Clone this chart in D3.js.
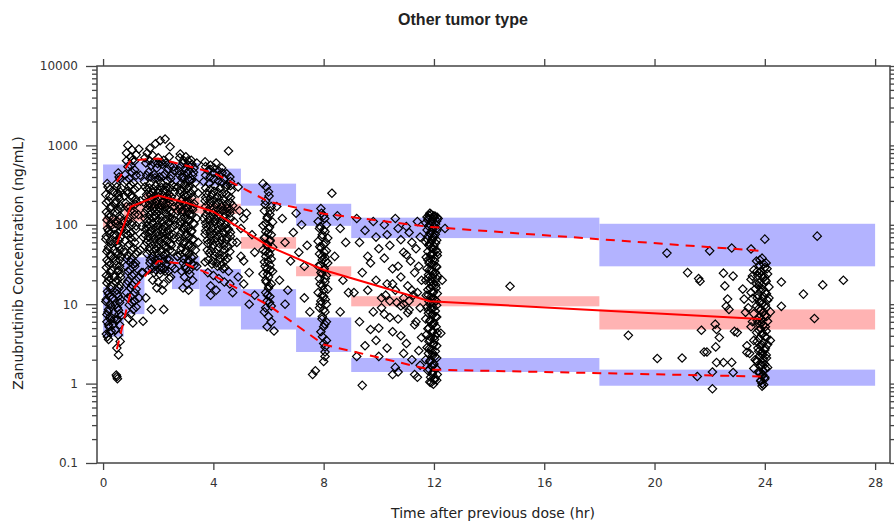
<!DOCTYPE html>
<html>
<head>
<meta charset="utf-8">
<script src="https://cdn.jsdelivr.net/npm/d3@7"></script>
<style>
  body { margin: 0; background: #fff; }
  text { font-family: "DejaVu Sans", Verdana, sans-serif; fill: #222; }
</style>
</head>
<body>
<svg id="vpc" width="894" height="521"></svg>
<script>
// bins of the visual predictive check (hours)
const binEdges = [0, 0.75, 1.5, 2.5, 3.5, 5, 7, 9, 18, 28];
// simulated prediction intervals (ng/mL) of the 95th, 50th and 5th percentiles
const piP95Lo = [340, 350, 360, 340, 310, 174, 97, 68, 30];
const piP95Hi = [575, 620, 640, 600, 510, 330, 184, 123, 103];
const piP50Lo = [90, 110, 160, 140, 137, 50, 22.5, 9.4, 4.8];
const piP50Hi = [125, 190, 250, 220, 184, 70, 30, 12.6, 8.6];
const piP5Lo = [3.9, 7.5, 25, 15.5, 9.4, 4.8, 2.5, 1.4, 0.94];
const piP5Hi = [16.4, 39, 42, 40, 27.7, 15.5, 6.8, 2.1, 1.5];

// observed percentiles at the median time of each bin
const binTimes = [0.5, 1.0, 2.0, 3.0, 4.0, 6.0, 8.0, 11.85, 23.85];
const obsP95 = [350, 646, 684, 558, 453, 196, 138, 94, 47];
const obsP50 = [57, 169, 233, 190, 146, 54, 27, 10.9, 6.5];
const obsP5 = [2.7, 14.2, 35, 32, 23, 9.7, 3.1, 1.5, 1.23];

const xTicks = [0, 4, 8, 12, 16, 20, 24, 28];
const yTicks = [0.1, 1, 10, 100, 1000, 10000];

// observed concentrations [time (hr), conc (ng/mL)]
const obs05h = [[0.15,330],[0.25,280],[0.1,240],[0.2,200],[0.3,170],[0.12,145],[0.22,125],[0.28,105],[0.16,90],[0.24,78],[0.1,66],[0.3,57],[0.18,49],[0.26,42],[0.14,36],[0.22,31],[0.3,27],[0.12,23],[0.2,20],[0.28,17],[0.16,14.5],[0.24,12.5],[0.1,10.8],[0.3,9.3],[0.18,8],[0.26,7],[0.14,6],[0.22,5.2],[0.3,4.6],[0.12,4.2],[0.2,3.6],
  [0.55,450],[0.62,380],[0.48,330],[0.66,290],[0.52,250],[0.58,215],[0.44,185],[0.64,160],[0.5,140],[0.6,120],[0.46,104],[0.68,92],[0.54,80],[0.62,70],[0.42,61],[0.58,53],[0.5,46],[0.66,40],[0.46,35],[0.6,30],[0.54,26],[0.64,22],[0.48,19],[0.58,16],[0.52,13.5],[0.62,11.5],[0.44,9.8],[0.56,8.4],[0.66,7.2],[0.5,6.3],[0.6,5.5],[0.45,4.7],[0.55,4.1],[0.62,3.4],[0.5,2.8],[0.56,2.3],[0.5,1.22],[0.52,1.15],[0.48,1.28],
  [0.38,260],[0.35,120],[0.4,75],[0.36,38],[0.42,22],[0.34,12],[0.4,6.5],[0.36,5.5],
  [0.18,300],[0.24,230],[0.12,190],[0.26,160],[0.2,135],[0.14,115],[0.28,96],[0.2,84],[0.12,72],[0.26,62],[0.2,53],[0.14,46],[0.28,40],[0.2,34],[0.12,29],[0.26,25],[0.2,22],[0.14,18.5],[0.28,15.5],[0.2,13.5],[0.12,11.5],[0.26,10],[0.2,8.6],[0.14,7.4],[0.28,6.4],[0.2,5.5],[0.24,4.4],[0.16,3.9],
  [0.58,400],[0.5,300],[0.62,260],[0.56,230],[0.48,200],[0.62,175],[0.54,155],[0.6,130],[0.5,112],[0.56,98],[0.64,84],[0.48,74],[0.58,64],[0.52,56],[0.62,48],[0.54,42],[0.6,36],[0.5,31],[0.56,27],[0.62,24],[0.52,20.5],[0.6,17.5],[0.5,15],[0.56,12.5],[0.6,10.5],[0.52,9],[0.58,7.5],[0.52,6.5]];
const obs1h = [[0.9,1000],[1.05,880],[1.2,760],[0.85,640],[1.0,560],[1.15,490],[0.8,430],[0.95,380],[1.1,340],[1.25,300],[0.88,265],[1.02,235],[1.18,210],[0.82,188],[0.98,168],[1.12,150],[1.28,134],[0.9,120],[1.05,108],[1.2,97],[0.85,87],[1.0,78],[1.15,70],[0.8,63],[0.95,57],[1.1,51],[1.25,46],[0.88,41],[1.02,37],[1.18,33],[0.82,30],[0.98,27],[1.12,24],[1.28,21.5],[0.9,19.5],[1.05,17.5],[1.2,15.5],[0.85,14],[1.0,12.5],[1.15,11],[0.95,9.8],[1.1,8.6],[1.0,7.5],[0.92,6.6],[1.08,5.8],
  [1.3,900],[1.35,420],[1.35,200],[1.4,95],[1.35,48],[1.4,25],[1.3,12],[0.78,110],[0.78,230],[0.78,45],[1.06,650],[0.94,300],[1.16,180],[0.9,75],[1.1,32],
  [0.85,800],[1.0,720],[1.15,640],[0.9,540],[1.05,460],[1.2,420],[0.85,360],[1.0,320],[1.15,280],[0.9,250],[1.05,220],[1.2,195],[0.85,170],[1.0,150],[1.15,135],[0.9,110],[1.05,100],[1.2,88],[0.85,78],[1.0,68],[1.15,60],[0.9,54],[1.05,48],[1.2,43],[0.85,38],[1.0,34],[1.15,30],[0.9,26],[1.05,23],[1.2,20],[0.85,18],[1.0,16],[1.15,14],[0.9,12],[1.05,10.5],[1.2,9.2]];
const obs2h = [[2.07,1150],[2.25,1200],[1.9,1050],[1.7,920],[2.43,960],
  [1.6,800],[1.8,750],[2.0,700],[2.2,650],[2.4,720],[1.55,600],[1.75,560],[1.95,520],[2.15,580],[2.35,500],[2.55,540],
  [1.65,460],[1.85,430],[2.05,400],[2.25,440],[2.45,380],[1.5,350],[1.7,330],[1.9,310],[2.1,340],[2.3,300],[2.5,320],
  [1.6,280],[1.8,260],[2.0,250],[2.2,270],[2.4,240],[2.6,260],[1.55,220],[1.75,210],[1.95,200],[2.15,190],[2.35,215],[2.55,195],
  [1.65,175],[1.85,165],[2.05,160],[2.25,170],[2.45,150],[1.5,140],[1.7,135],[1.9,130],[2.1,125],[2.3,138],[2.5,120],
  [1.6,110],[1.8,105],[2.0,100],[2.2,95],[2.4,108],[2.6,98],[1.55,88],[1.75,84],[1.95,80],[2.15,78],[2.35,85],[2.55,75],
  [1.65,70],[1.85,66],[2.05,62],[2.25,68],[2.45,58],[1.5,55],[1.7,52],[1.9,50],[2.1,48],[2.3,53],[2.5,46],
  [1.6,43],[1.8,40],[2.0,38],[2.2,41],[2.4,36],[1.7,33],[1.9,31],[2.1,29],[2.3,32],[2.5,30],
  [1.65,27],[1.85,25],[2.05,24],[2.25,26],[2.45,22],[1.8,20],[2.0,19],[2.2,18],[2.4,21],[1.95,16],[2.15,15],
  [1.75,8.6],[2.2,8.6],[1.45,6.1],[1.55,12],[2.6,28],[2.7,40],[1.45,70],[1.45,25],
  [1.52,700],[1.68,640],[1.82,610],[1.98,590],[2.12,620],[2.28,600],[2.42,560],[2.58,480],
  [1.58,420],[1.72,400],[1.88,390],[2.02,370],[2.18,410],[2.32,360],[2.48,420],
  [1.52,300],[1.68,290],[1.82,285],[1.98,280],[2.12,295],[2.28,275],[2.42,290],[2.58,300],
  [1.58,240],[1.72,235],[1.88,230],[2.02,225],[2.18,235],[2.32,230],[2.48,225],
  [1.52,185],[1.68,190],[1.82,185],[1.98,180],[2.12,175],[2.28,185],[2.42,190],[2.58,170],
  [1.58,155],[1.72,150],[1.88,148],[2.02,145],[2.18,150],[2.32,155],[2.48,140],
  [1.52,120],[1.68,118],[1.82,122],[1.98,115],[2.12,112],[2.28,118],[2.42,122],[2.58,115],
  [1.58,96],[1.72,94],[1.88,92],[2.02,90],[2.18,88],[2.32,95],[2.48,92],
  [1.52,75],[1.68,78],[1.82,74],[1.98,72],[2.12,70],[2.28,76],[2.42,74],[2.58,68],
  [1.58,60],[1.72,60],[1.88,58],[2.02,56],[2.18,57],[2.32,61],[2.48,55],
  [1.68,47],[1.82,46],[1.98,44],[2.12,45],[2.28,44],[2.42,48],
  [1.72,36],[1.88,36],[2.02,34],[2.18,35],[2.32,37],
  [1.78,28],[1.92,27],[2.08,27],[2.22,28],[2.38,26]];
const obs3h = [[2.8,780],[3.0,720],[3.2,650],[2.9,600],[3.1,560],[3.3,520],[2.75,480],[3.05,450],[3.25,420],[2.85,390],[3.15,360],[3.35,340],
  [2.95,320],[3.05,290],[2.8,270],[3.2,250],[3.0,230],[2.9,210],[3.1,200],[3.3,185],[2.75,175],[3.05,165],[3.25,155],[2.85,145],[3.15,135],
  [2.95,125],[3.1,118],[2.8,110],[3.3,102],[3.0,95],[2.9,88],[3.2,82],[3.05,76],[2.75,70],[3.25,65],[2.95,60],[3.15,56],[2.85,52],[3.35,48],
  [3.0,45],[2.8,42],[3.2,39],[3.1,36],[2.9,33],[3.3,31],[3.0,28],[2.85,26],[3.15,24],[2.95,22],[3.25,20],[3.05,18],[2.9,16],[3.1,15],
  [3.4,600],[3.45,250],[3.4,120],[3.45,60],[3.4,30],[2.7,300],[2.7,150],[2.7,40],
  [2.78,700],[2.92,650],[3.08,640],[3.22,580],[2.82,540],[2.98,510],[3.12,480],[3.28,460],
  [2.78,420],[2.92,400],[3.08,380],[3.22,370],[2.82,330],[2.98,310],[3.12,300],[3.28,280],
  [2.78,250],[2.92,240],[3.08,235],[3.22,220],[2.82,200],[2.98,190],[3.12,180],[3.28,170],
  [2.78,160],[2.92,150],[3.08,145],[3.22,135],[2.82,125],[2.98,118],[3.12,112],[3.28,105],
  [2.78,98],[2.92,92],[3.08,88],[3.22,84],[2.82,78],[2.98,74],[3.12,70],[3.28,66],
  [2.78,62],[2.92,58],[3.08,55],[3.22,52],[2.82,48],[2.98,46],[3.12,43],[3.28,40],
  [2.92,37],[3.08,34],[3.22,32],[2.98,30],[3.12,27]];
const obs4h = [[3.7,620],[3.9,560],[4.1,600],[4.3,520],[3.8,480],[4.0,450],[4.2,420],[4.4,380],[4.6,400],[3.65,350],[3.85,330],[4.05,310],[4.25,290],[4.45,300],[4.65,270],
  [3.75,250],[3.95,240],[4.15,225],[4.35,210],[4.55,230],[3.7,200],[3.9,190],[4.1,180],[4.3,170],[4.5,160],[4.7,175],
  [3.8,150],[4.0,142],[4.2,135],[4.4,128],[4.6,140],[3.65,120],[3.85,115],[4.05,110],[4.25,105],[4.45,100],[4.75,110],
  [3.75,95],[3.95,90],[4.15,85],[4.35,80],[4.55,88],[3.7,76],[3.9,72],[4.1,68],[4.3,64],[4.5,70],[4.7,60],
  [3.8,58],[4.0,55],[4.2,52],[4.4,49],[4.6,46],[3.85,44],[4.05,41],[4.25,38],[4.45,36],[3.7,34],[3.95,32],[4.15,30],[4.35,28],[4.55,26],
  [3.8,25],[4.0,23],[4.2,21],[4.4,19],[3.9,17],[4.1,15],
  [4.55,850],[4.9,300],[4.95,150],[5.0,90],[4.85,60],[5.0,40],[4.9,22],[5.1,120],[5.1,35],[4.7,14],[3.9,13],[4.6,18],
  [3.72,540],[3.88,500],[4.02,520],[4.18,480],[4.32,450],[4.48,440],[4.62,350],
  [3.72,420],[3.88,400],[4.02,380],[4.18,360],[4.32,340],[4.48,320],[4.62,310],
  [3.72,290],[3.88,280],[4.02,265],[4.18,255],[4.32,245],[4.48,240],[4.62,220],
  [3.72,220],[3.88,210],[4.02,205],[4.18,195],[4.32,188],[4.48,180],[4.62,190],
  [3.72,170],[3.88,165],[4.02,160],[4.18,155],[4.32,150],[4.48,145],[4.62,155],
  [3.72,132],[3.88,128],[4.02,124],[4.18,120],[4.32,115],[4.48,112],[4.62,120],
  [3.72,105],[3.88,100],[4.02,97],[4.18,94],[4.32,92],[4.48,88],[4.62,80],
  [3.72,84],[3.88,80],[4.02,77],[4.18,74],[4.32,70],[4.48,66],[4.62,72],
  [3.78,64],[3.92,62],[4.08,60],[4.22,58],[4.38,55],[4.52,52],
  [3.78,48],[3.92,47],[4.08,45],[4.22,42],[4.38,40],[4.52,38],
  [3.82,36],[3.98,35],[4.12,33],[4.28,31],[4.42,29]];
const obs6h = [[5.8,330],[6.0,260],[5.9,200],[6.1,170],[5.85,150],[6.05,135],[5.95,120],[6.15,108],[5.8,98],[6.0,90],[5.9,82],[6.1,75],[5.85,68],[6.05,62],[5.95,57],[6.15,52],[5.8,48],[6.0,44],[5.9,40],[6.1,37],[5.85,34],[6.05,31],[5.95,28],[6.15,26],[5.8,24],[6.0,22],[5.9,20],[6.1,18],[6.0,16],[5.9,14],[6.05,12.5],[5.95,11],[6.1,9.5],[5.85,8],[6.0,7],[6.1,6],[5.95,5.2],[6.2,4.6],
  [5.2,140],[5.4,75],[5.5,45],[5.3,25],[6.5,120],[6.6,60],[6.8,35],[6.4,20],[6.7,15],[5.5,13],[6.6,10],[5.1,18],[6.9,80],[5.3,10],[6.3,170],[7.0,140],
  [5.92,300],[6.02,230],[5.88,180],[6.06,150],[5.96,125],[5.9,104],[6.04,94],[5.98,78],[5.88,70],[6.06,64],[5.96,55],[5.9,46],[6.04,42],[5.98,35],[5.88,30],[6.06,27],[5.96,24],[5.92,19],[6.02,17],[5.96,13],[6.04,10.5],[5.9,9]];
const obs8h = [[7.9,160],[8.0,130],[7.8,110],[8.1,100],[7.85,90],[8.05,82],[7.95,75],[8.15,68],[7.8,62],[8.0,56],[7.9,51],[8.1,47],[7.85,43],[8.05,39],[7.95,36],[8.15,33],[7.8,30],[8.0,27],[7.9,25],[8.1,23],[7.85,21],[8.05,19],[7.95,17],[8.15,15.5],[7.8,14],[8.0,12.5],[7.9,11],[8.1,10],[7.85,9],[8.05,8],[7.95,7],[8.1,6],[8.0,5.2],[7.9,4.5],[8.1,3.5],[8.05,2.9],[8.05,2.5],[8.05,2.2],[8.0,1.9],[7.7,1.45],[7.6,1.3],
  [7.2,100],[7.4,55],[7.3,30],[8.5,130],[8.6,90],[8.8,60],[8.4,40],[8.7,20],[8.6,8],[7.5,8],[7.3,12],[8.9,14],[8.3,250],[7.1,45],
  [7.92,140],[8.04,120],[7.88,95],[8.0,86],[7.94,70],[8.08,60],[7.86,53],[8.02,45],[7.94,40],[8.08,35],[7.88,31],[8.02,28],[7.94,24],[8.06,21],[7.88,18],[8.0,15],[7.94,13],[8.06,11.5],[7.88,10],[8.0,8.5],[7.94,6.5],[8.04,5.6],[7.96,3.9],[8.0,3.2]];
const obs9to11h = [[9.2,120],[9.5,85],[9.3,60],[9.6,40],[9.4,25],[9.1,14],[9.3,6],[9.5,3],[9.2,2.2],[9.4,0.95],[9.8,110],[9.9,70],[10.0,50],[9.7,33],[9.9,20],[10.1,12],[9.8,8],[10.0,5],[9.9,3.5],[10.2,100],[10.3,75],[10.4,55],[10.2,38],[10.5,28],[10.3,18],[10.4,11],[10.2,7.5],[10.5,4.5],[10.3,2.8],[10.6,1.6],[10.6,120],[10.7,90],[10.8,65],[10.9,45],[10.7,30],[10.8,22],[10.6,15],[10.9,10],[10.7,6.5],[10.8,4],[10.9,2.4],[10.7,1.4],[11.0,95],[11.1,80],[11.2,60],[11.0,42],[11.15,35],[11.3,25],[11.05,17],[11.25,13],[11.1,8.5],[11.3,5.5],[11.0,3.2],[11.2,2],[11.3,1.3],[11.4,110],[11.5,70],[11.35,50],[11.45,30],[11.55,20],[11.4,14],[11.5,9],[11.35,6],[11.55,3.8],[11.45,2.6],[11.5,1.7],[11.4,1.2],
  [10.1,9],[9.6,15],[10.4,6.8],[10.9,12],[11.2,15],[10.5,18],[10.8,9.5],[11.1,11],[10.25,13],[10.65,10.5],[11.05,7.8],[9.7,4.8],[10.0,2.2],[10.5,1.3]];
const obs12h = [[11.9,135],[12.05,128],[11.8,122],[11.95,118],[12.1,112],[11.7,106],[11.85,100],[12.0,95],[12.1,90],[11.75,86],[11.9,81],[12.05,76],[11.8,72],[11.95,68],[12.1,64],[11.7,61],[11.85,58],[12.0,54],[11.9,51],[12.08,48],[11.78,46],[11.95,43],[12.12,41],[11.72,39],[11.88,37],[12.02,35],[11.82,33],[11.98,31],[12.1,29.5],[11.75,28],[11.9,26.5],[12.05,25],[11.8,23.5],[11.95,22],[12.1,21],[11.7,20],[11.85,19],[12.0,18],[11.92,17],[12.08,16],[11.78,15.2],[11.95,14.4],[12.12,13.6],[11.72,12.9],[11.88,12.2],[12.02,11.5],[11.82,10.9],[11.98,10.3],[12.1,9.7],[11.75,9.2],[11.9,8.7],[12.05,8.2],[11.8,7.7],[11.95,7.3],[12.1,6.9],[11.7,6.5],[11.85,6.1],[12.0,5.8],[11.92,5.5],[12.08,5.2],[11.78,4.9],[11.95,4.6],[12.12,4.35],[11.72,4.1],[11.88,3.85],[12.02,3.6],[11.82,3.4],[11.98,3.2],[12.1,3.0],[11.75,2.85],[11.9,2.7],[12.05,2.55],[11.8,2.4],[11.95,2.25],[12.1,2.1],[11.7,2.0],[11.85,1.88],[12.0,1.76],[11.92,1.65],[12.08,1.55],[11.78,1.46],[11.95,1.38],[12.12,1.3],[11.88,1.2],[12.02,1.12],[11.85,1.05],[11.98,0.98],[12.1,1.1],
  [11.75,125],[12.0,130],[12.15,120],[11.85,140],[12.4,90],[12.3,20],[12.25,4.3],[14.76,16.8],
  [11.82,132],[11.98,126],[12.12,124],[11.78,115],[11.92,108],[12.06,102],[11.8,96],[11.96,88],[12.1,84],[11.86,78],[12.0,70],[11.76,66],[11.92,63],[12.06,59],[11.82,55],[11.98,50],[12.12,45],[11.88,42],[12.02,38],[11.78,36],[11.94,32],[12.08,30],[11.84,27],[11.98,24],[12.12,23],[11.8,21.5],[11.94,19.5],[12.06,17.5],[11.86,16],[11.98,14],[11.8,13],[11.94,11.8],[12.08,11],[11.86,10],[11.98,9],[11.8,8.4],[11.94,7.5],[12.06,7],[11.86,6.3],[11.98,5.6],[11.82,5],[11.94,4.4],[12.06,4],[11.86,3.5],[11.98,3.1],[11.82,2.75],[11.94,2.45],[12.04,2.2],[11.86,1.95],[11.98,1.7],[11.84,1.5],[11.94,1.32],[12.04,1.18],[11.9,1.03]];
const obs18to23h = [[19.05,4.05],[20.45,44],[20.1,2.07],[21.0,2.1],[21.2,25],[21.6,21],[21.65,19.5],[21.7,4.7],[21.8,2.5],[21.9,2.5],[22.0,47],[22.1,1.4],[21.55,1.23],[22.1,0.86],[22.2,5.6],[22.25,4.8],[22.22,2.9],[22.25,1.84],[22.35,3.8],[22.5,24.6],[22.55,17],[22.5,1.84],[22.6,9.4],[22.65,11.6],[22.7,8.6],[22.8,51],[22.85,22.6],[22.85,1.38],[22.8,1.85],[22.9,4.55],[23.0,4.4],[23.2,15.5],[23.25,11.6],[23.3,7.9],[23.35,2.47],[23.5,49.6],[23.55,22.6]];
const obs24h = [[23.9,38],[23.7,35],[24.05,33],[23.8,31],[24.0,29],[23.6,27],[23.85,26],[24.1,24],[23.75,23],[23.95,21.5],[23.5,20.5],[24.05,19.5],[23.8,18.5],[23.9,17.5],[24.15,16.5],[23.65,15.5],[23.85,14.7],[24.0,14],[23.75,13.2],[23.95,12.5],[23.55,11.8],[24.1,11.2],[23.8,10.6],[23.9,10],[23.7,9.5],[24.05,9],[23.85,8.5],[23.95,8],[23.6,7.6],[24.0,7.2],[23.8,6.8],[23.9,6.4],[24.1,6.1],[23.75,5.8],[23.95,5.5],[23.5,5.2],[23.85,4.9],[24.05,4.6],[23.7,4.4],[23.9,4.15],[24.0,3.9],[23.8,3.7],[23.6,3.5],[23.95,3.3],[24.1,3.1],[23.85,2.95],[23.75,2.8],[24.0,2.65],[23.9,2.5],[23.45,2.4],[24.05,2.3],[23.8,2.2],[23.95,2.05],[23.7,1.95],[23.9,1.85],[24.0,1.75],[23.85,1.65],[23.6,1.55],[23.95,1.45],[23.8,1.35],[23.9,1.25],[24.0,1.15],[23.85,1.08],[23.9,1.0],[23.9,0.93],
  [23.4,9],[23.5,14],[24.2,8],[24.2,3.5],[23.55,6],[23.35,3],[24.15,12],[23.65,2],[24.1,1.6],[23.7,18],[24.0,22],[23.8,25],
  [24.0,66],[24.6,19],[24.6,9.4],[25.4,13.4],[25.8,6.6],[25.9,72],[26.1,17.5],[26.85,20],
  [23.82,36],[23.96,32],[24.08,28],[23.72,26],[23.88,23],[24.02,20],[23.78,17],[23.92,15.5],[24.06,13.5],[23.72,12],[23.88,11],[24.02,9.8],[23.78,8.8],[23.92,7.8],[24.06,7],[23.72,6.3],[23.88,5.8],[24.02,5.2],[23.78,4.7],[23.92,4.3],[24.06,3.8],[23.72,3.4],[23.88,3.1],[24.02,2.8],[23.78,2.55],[23.92,2.3],[24.06,2.1],[23.72,1.9],[23.88,1.72],[24.02,1.55],[23.78,1.42],[23.92,1.3],[24.0,1.2],[23.86,1.1],[23.96,0.97]];

const observations = [].concat(obs05h, obs1h, obs2h, obs3h, obs4h, obs6h, obs8h,
  obs9to11h, obs12h, obs18to23h, obs24h);

const svg = d3.select('#vpc');
const [plotLeft, plotRight, plotTop, plotBottom] = [97, 890, 66, 463];

const x = d3.scaleLinear().domain([-0.22, 28.54]).range([plotLeft, plotRight]);
const y = d3.scaleLog().domain([0.1, 10000]).range([plotBottom, plotTop]);

const plot = svg.append('g');

// prediction interval boxes
const bins = d3.range(binEdges.length - 1).map(i => ({
  x0: binEdges[i], x1: binEdges[i + 1],
  bands: [
    {lo: piP95Lo[i], hi: piP95Hi[i], fill: '#b3b3ff'},
    {lo: piP50Lo[i], hi: piP50Hi[i], fill: '#ffb3b3'},
    {lo: piP5Lo[i], hi: piP5Hi[i], fill: '#b3b3ff'}
  ]
}));

bins.forEach(b => {
  plot.selectAll(null)
    .data(b.bands)
    .enter()
    .append('rect')
    .attr('x', x(b.x0))
    .attr('width', x(b.x1) - x(b.x0))
    .attr('y', d => y(d.hi))
    .attr('height', d => y(d.lo) - y(d.hi))
    .style('fill', d => d.fill);
});

// observed points, open diamonds
plot.selectAll('path.obs')
  .data(observations)
  .enter()
  .append('path')
  .attr('class', 'obs')
  .attr('d', 'M0,-4.2L4.2,0L0,4.2L-4.2,0Z')
  .attr('transform', d => `translate(${x(d[0])},${y(d[1])})`)
  .style('fill', 'none')
  .style('stroke', '#000')
  .style('stroke-width', 1.2);

// observed percentile lines
const line = d3.line().x(d => x(d[0])).y(d => y(d[1]));
const pctLines = [
  {vals: obsP50, dash: null},
  {vals: obsP95, dash: '9,7'},
  {vals: obsP5, dash: '9,7'}
];
pctLines.forEach(p => {
  plot.append('path')
    .datum(binTimes.map((t, i) => [t, p.vals[i]]))
    .attr('d', line)
    .style('fill', 'none')
    .style('stroke', '#ff0000')
    .style('stroke-width', 2)
    .style('stroke-dasharray', p.dash);
});

// axes
const minorTicks = [];
yTicks.slice(0, -1).forEach(d => { for (let k = 2; k < 10; k++) minorTicks.push(d * k); });

const styleAxis = g => {
  g.select('.domain').remove();
  g.selectAll('.tick line').style('stroke', '#444').style('stroke-width', 1.3);
  g.selectAll('.tick text').style('font-size', '12px').style('fill', '#333')
    .style('font-family', '"DejaVu Sans", Verdana, sans-serif');
};

svg.append('g')
  .attr('transform', `translate(0,${plotBottom})`)
  .call(d3.axisBottom(x).tickValues(xTicks).tickSize(7).tickPadding(8))
  .call(styleAxis);
svg.append('g')
  .attr('transform', `translate(0,${plotTop})`)
  .call(d3.axisTop(x).tickValues(xTicks).tickSize(7).tickFormat(''))
  .call(styleAxis);
svg.append('g')
  .attr('transform', `translate(${plotLeft},0)`)
  .call(d3.axisLeft(y).tickValues(yTicks).tickSize(11).tickPadding(8).tickFormat(d3.format('~g')))
  .call(styleAxis);
svg.append('g')
  .attr('transform', `translate(${plotLeft},0)`)
  .call(d3.axisLeft(y).tickValues(minorTicks).tickSize(5).tickFormat(''))
  .call(styleAxis);
svg.append('g')
  .attr('transform', `translate(${plotRight},0)`)
  .call(d3.axisRight(y).tickValues(yTicks).tickSize(11).tickFormat(''))
  .call(styleAxis);
svg.append('g')
  .attr('transform', `translate(${plotRight},0)`)
  .call(d3.axisRight(y).tickValues(minorTicks).tickSize(5).tickFormat(''))
  .call(styleAxis);

// frame
svg.append('rect')
  .attr('x', plotLeft).attr('y', plotTop)
  .attr('width', plotRight - plotLeft).attr('height', plotBottom - plotTop)
  .style('fill', 'none')
  .style('stroke', '#444')
  .style('stroke-width', 1.5);

// titles
svg.append('text')
  .attr('x', 463).attr('y', 25)
  .style('text-anchor', 'middle')
  .style('font-weight', 'bold')
  .style('font-size', '16px')
  .style('font-family', '"Liberation Sans Narrow", "Liberation Sans", Arial, sans-serif')
  .text('Other tumor type');

svg.append('text')
  .attr('x', 493).attr('y', 518)
  .style('text-anchor', 'middle')
  .style('font-size', '14px')
  .text('Time after previous dose (hr)');

svg.append('text')
  .attr('transform', 'translate(23,263) rotate(-90)')
  .style('text-anchor', 'middle')
  .style('font-size', '14px')
  .text('Zanubrutinib Concentration (ng/mL)');
</script>
</body>
</html>
